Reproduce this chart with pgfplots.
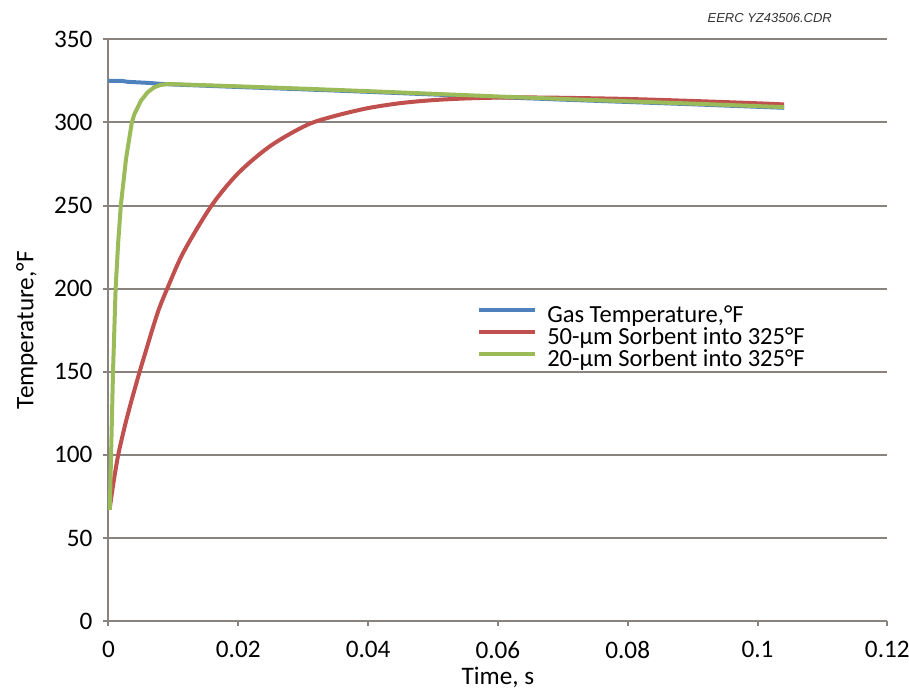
\documentclass[border=0pt]{standalone}
\usepackage{pgfplots}
\pgfplotsset{compat=1.18}
\usepackage{fontspec}
\setmainfont{Carlito}
\newfontfamily\arialfont{Liberation Sans}
\definecolor{gridc}{RGB}{137,131,127}
\definecolor{gasblue}{RGB}{79,129,189}
\definecolor{redc}{RGB}{192,80,77}
\definecolor{greenc}{RGB}{155,187,89}
\begin{document}
\begin{tikzpicture}
    \begin{axis}[
            at={(0pt,0pt)}, anchor=south west,
            scale only axis,
            width=389.5pt, height=291pt,
            xmin=0, xmax=0.12,
            ymin=0, ymax=350,
            xtick={0,0.02,0.04,0.06,0.08,0.1,0.12},
            ytick={0,50,100,150,200,250,300,350},
            axis lines*=left,
            ymajorgrids=true,
            grid style={gridc, line width=1pt},
            axis line style={gridc, line width=1pt},
            tick style={gridc, line width=1pt},
            tick align=outside,
            major tick length=2.5pt,
            font=\fontsize{12.6}{14}\selectfont,
            /pgf/number format/assume math mode=true,
            xticklabel style={/pgf/number format/fixed, /pgf/number format/precision=2, yshift=-4pt},
            yticklabel style={xshift=-2pt},
            xlabel={Time, s},
            ylabel={Temperature,°F},
            xlabel style={at={(axis description cs:0.5,-0.096)}, anchor=center},
            ylabel style={at={(axis description cs:-0.105,0.5)}, anchor=center},
            clip=false,
            legend cell align=left,
            legend image code/.code={\draw[#1] (0pt,3pt) -- (28pt,3pt);},
            legend style={
                    at={(rel axis cs:0.473,0.5435)}, anchor=north west,
                    draw=none, fill=none, inner sep=0pt,
                    column sep=5pt, row sep=0pt,
                    font=\fontsize{12.3}{12}\selectfont,
                    nodes={inner sep=0pt, text height=8.4pt, text depth=2.6pt},
                },
        ]
        % gas temperature
        \addplot[gasblue, line width=2pt] coordinates {
                (0,325) (0.002,325) (0.003,324.4) (0.006,323.8) (0.008,323.2)
                (0.01,322.8) (0.02,321.3) (0.03,319.9) (0.04,318.4) (0.05,316.8)
                (0.06,315.2) (0.07,313.7) (0.08,312.3) (0.09,310.9) (0.1,309.4)
                (0.1041,308.8)
            };
        % 50 um sorbent
        \addplot[redc, line width=2pt, smooth] coordinates {
                (0.0002,68) (0.0008,84) (0.0015,100) (0.0025,117) (0.0035,132)
                (0.0048,150) (0.0058,163) (0.0068,176) (0.0078,188) (0.009,199.5)
                (0.0115,221.5) (0.0158,249.5) (0.02,269.5) (0.025,286)
                (0.0306,298.5) (0.035,304) (0.04,308.6) (0.045,311.6) (0.05,313.4)
                (0.055,314.4) (0.06,314.9) (0.065,315) (0.07,314.8) (0.08,314.1)
                (0.09,312.9) (0.1,311.5) (0.1041,310.8)
            };
        % 20 um sorbent
        \addplot[greenc, line width=2pt] coordinates {
                (0.0002,67) (0.0004,100) (0.0007,150) (0.0011,200) (0.0015,228)
                (0.0019,250) (0.0027,278) (0.0036,300) (0.004,305) (0.005,313)
                (0.006,318) (0.007,321) (0.008,322.5) (0.009,323) (0.01,323)
                (0.02,321.7) (0.03,320.3) (0.04,318.8) (0.05,317.2) (0.06,315.6)
                (0.07,314.1) (0.08,312.7) (0.09,311.3) (0.1,309.8) (0.1041,309.2)
            };
        \legend{{Gas Temperature,°F}, {50-µm Sorbent into 325°F}, {20-µm Sorbent into 325°F}}
        \node[font=\arialfont\itshape\fontsize{6.5}{8}\selectfont, text=black!80]
            at (rel axis cs:0.849,1.0366) {EERC YZ43506.CDR};
    \end{axis}
    \pgfresetboundingbox
    \path[use as bounding box] (-54.25pt,-33.85pt) rectangle (400.35pt,310.65pt);
\end{tikzpicture}
\end{document}
